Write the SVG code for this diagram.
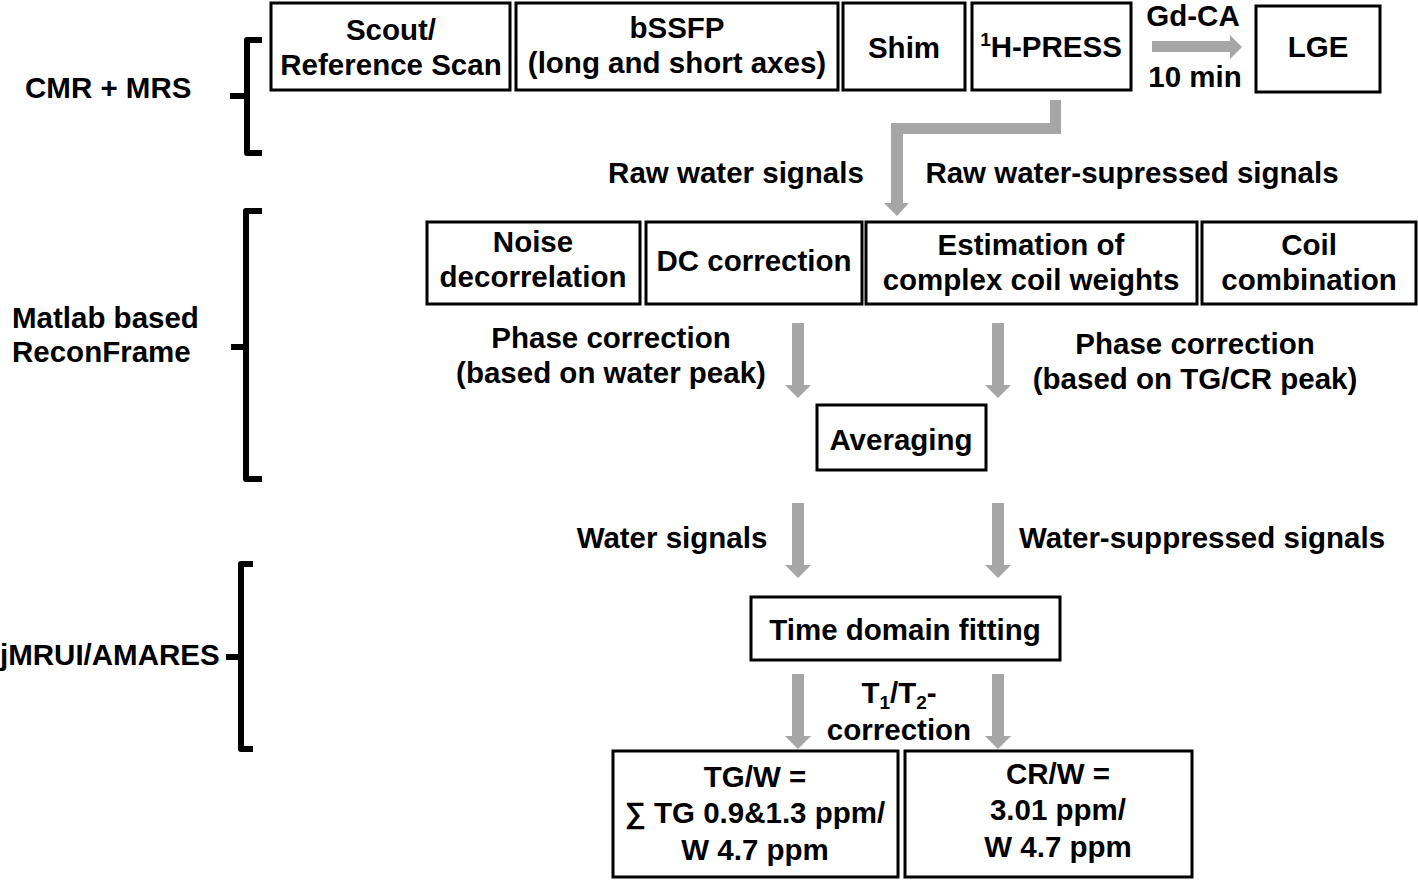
<svg xmlns="http://www.w3.org/2000/svg" width="1418" height="880" viewBox="0 0 1418 880">
<defs>
<style>
.box{fill:#fff;stroke:#000;stroke-width:3}
.t{font-family:"Liberation Sans",Arial,sans-serif;font-weight:bold;font-size:29.5px;fill:#000;text-anchor:middle}
.l{text-anchor:start}
.br{fill:none;stroke:#000;stroke-width:6;stroke-linejoin:round}
.ar{fill:#a6a6a6;stroke:none}
</style>
<symbol id="down" overflow="visible">
<path d="M-6,0 H6 V62 H13 L0,75 L-13,62 H-6 Z"/>
</symbol>
</defs>
<rect width="1418" height="880" fill="#fff"/>

<g id="labels">
<text class="t l" x="25" y="98">CMR + MRS</text>
<text class="t l" x="12" y="328">Matlab based</text>
<text class="t l" x="12" y="362">ReconFrame</text>
<text class="t l" x="0" y="665">jMRUI/AMARES</text>
<path class="br" d="M262,40 H247 V153 H262 M247,96 H230"/>
<path class="br" d="M262,211 H246 V479 H262 M246,347 H231"/>
<path class="br" d="M253,564 H241 V749 H253 M241,657 H226"/>
</g>

<g id="connectors">
<path class="ar" d="M1050,100 H1061 V134 H903 V203 H909 L897,216 L884,203 H891 V123 H1050 Z"/>
<path class="ar" d="M1152,41 H1230 V35 L1242,47 L1230,59 V52 H1152 Z"/>
<use href="#down" class="ar" x="798" y="323"/>
<use href="#down" class="ar" x="998" y="323"/>
<use href="#down" class="ar" x="798" y="503"/>
<use href="#down" class="ar" x="998" y="503"/>
<use href="#down" class="ar" x="798" y="674"/>
<use href="#down" class="ar" x="998" y="674"/>
<text class="t" x="1193" y="26" font-size="28.5">Gd-CA</text>
<text class="t" x="1195" y="87">10 min</text>
<text class="t" x="736" y="183">Raw water signals</text>
<text class="t" x="1132" y="183">Raw water-supressed signals</text>
<text class="t" x="611" y="348">Phase correction</text>
<text class="t" x="611" y="383">(based on water peak)</text>
<text class="t" x="1195" y="354">Phase correction</text>
<text class="t" x="1195" y="389">(based on TG/CR peak)</text>
<text class="t" x="672" y="548">Water signals</text>
<text class="t l" x="1019" y="548">Water-suppressed signals</text>
<text class="t" x="899" y="703">T<tspan font-size="19" dy="6">1</tspan><tspan dy="-6">/T</tspan><tspan font-size="19" dy="6">2</tspan><tspan dy="-6">-</tspan></text>
<text class="t" x="899" y="740">correction</text>
</g>

<g id="scout"><rect class="box" x="271" y="3" width="239" height="87"/>
<text class="t" x="391" y="40">Scout/</text><text class="t" x="391" y="75">Reference Scan</text></g>
<g id="bssfp"><rect class="box" x="516" y="3" width="322" height="87"/>
<text class="t" x="677" y="38">bSSFP</text><text class="t" x="677" y="73">(long and short axes)</text></g>
<g id="shim"><rect class="box" x="843" y="3" width="122" height="87"/>
<text class="t" x="904" y="58">Shim</text></g>
<g id="press"><rect class="box" x="972" y="3" width="159" height="87"/>
<text class="t" x="1051" y="57"><tspan font-size="19" dy="-11">1</tspan><tspan dy="11">H-PRESS</tspan></text></g>
<g id="lge"><rect class="box" x="1256" y="6" width="124" height="86"/>
<text class="t" x="1318" y="57">LGE</text></g>

<g id="noise"><rect class="box" x="427" y="222" width="213" height="82"/>
<text class="t" x="533" y="252">Noise</text><text class="t" x="533" y="287">decorrelation</text></g>
<g id="dc"><rect class="box" x="646" y="222" width="216" height="82"/>
<text class="t" x="754" y="271">DC correction</text></g>
<g id="estimation"><rect class="box" x="866" y="222" width="331" height="82"/>
<text class="t" x="1031" y="255">Estimation of</text><text class="t" x="1031" y="290">complex coil weights</text></g>
<g id="coil"><rect class="box" x="1202" y="222" width="214" height="82"/>
<text class="t" x="1309" y="255">Coil</text><text class="t" x="1309" y="290">combination</text></g>

<g id="averaging"><rect class="box" x="817" y="405" width="169" height="65"/>
<text class="t" x="901" y="450">Averaging</text></g>
<g id="fitting"><rect class="box" x="751" y="597" width="309" height="63"/>
<text class="t" x="905" y="640">Time domain fitting</text></g>

<g id="tgw"><rect class="box" x="613" y="751" width="285" height="126"/>
<text class="t" x="755" y="787">TG/W =</text><text class="t" x="755" y="823">∑ TG 0.9&amp;1.3 ppm/</text><text class="t" x="755" y="860">W 4.7 ppm</text></g>
<g id="crw"><rect class="box" x="905" y="751" width="287" height="126"/>
<text class="t" x="1058" y="784">CR/W =</text><text class="t" x="1058" y="820">3.01 ppm/</text><text class="t" x="1058" y="857">W 4.7 ppm</text></g>
</svg>
